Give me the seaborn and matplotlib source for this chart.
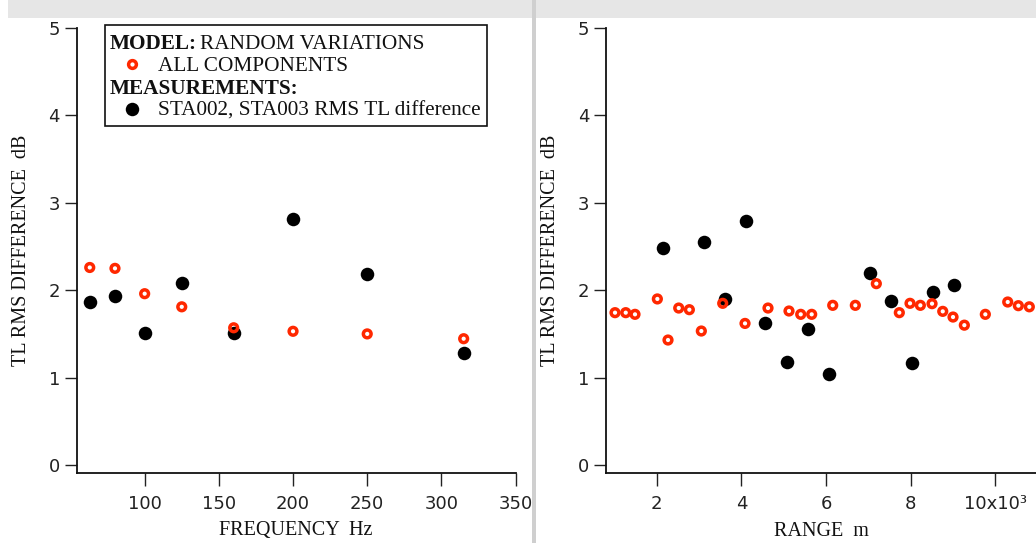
import matplotlib
matplotlib.use("Agg")
import matplotlib.pyplot as plt
from matplotlib.patches import Rectangle
from matplotlib.ticker import FixedLocator, FixedFormatter
import seaborn as sns
import pandas as pd

# left panel: TL RMS difference vs third-octave frequency
freq_hz = [63, 80, 100, 125, 160, 200, 250, 315]
model_by_freq = [2.26, 2.25, 1.96, 1.81, 1.57, 1.53, 1.50, 1.445]
meas_by_freq = [1.87, 1.93, 1.51, 2.08, 1.51, 2.81, 2.19, 1.285]

# right panel: TL RMS difference vs range
model_range_m = [1015, 1268, 1487, 2015, 2267, 2520, 2771, 3054, 3559, 4086,
                 4629, 5125, 5402, 5661, 6158, 6692, 7188, 7731, 7984, 8228,
                 8504, 8757, 9000, 9267, 9763, 10292, 10543, 10802]
model_by_range = [1.743, 1.743, 1.724, 1.90, 1.43, 1.796, 1.777, 1.533, 1.85, 1.62,
                  1.796, 1.762, 1.724, 1.724, 1.827, 1.827, 2.075, 1.743, 1.85, 1.827,
                  1.846, 1.758, 1.693, 1.60, 1.724, 1.865, 1.823, 1.81]
meas_range_m = [2142, 3110, 3606, 4102, 4566, 5071, 5567, 6063, 7032, 7535,
                8031, 8535, 9031]
meas_by_range = [2.48, 2.55, 1.896, 2.79, 1.63, 1.18, 1.56, 1.04, 2.20, 1.876,
                 1.163, 1.976, 2.063]

y_ticks = [0, 1, 2, 3, 4, 5]
freq_ticks = [100, 150, 200, 250, 300, 350]
range_ticks = [2000, 4000, 6000, 8000, 10000]
range_tick_labels = ["2", "4", "6", "8", "10x10\u00b3"]

legend_header_1 = ("MODEL:", "RANDOM VARIATIONS")
legend_item_1 = "ALL COMPONENTS"
legend_header_2 = "MEASUREMENTS:"
legend_item_2 = "STA002, STA003 RMS TL difference"

RED = "#ff2800"
W, H = 1036, 543

sns.set_style("ticks")
plt.rcParams['font.family'] = ['DejaVu Sans']
serif = 'Liberation Serif'

fig = plt.figure(figsize=(W / 100, H / 100), dpi=100)
ax1 = fig.add_axes([76.7 / W, 1 - 472.7 / H, 438.9 / W, 444.7 / H])
ax2 = fig.add_axes([606 / W, 1 - 472.7 / H, 430 / W, 444.7 / H])

df_f = pd.DataFrame({'f': freq_hz, 'model': model_by_freq, 'meas': meas_by_freq})
df_rm = pd.DataFrame({'r': model_range_m, 'v': model_by_range})
df_rd = pd.DataFrame({'r': meas_range_m, 'v': meas_by_range})

black_kw = dict(color='black', s=95, linewidth=0, zorder=3)
red_kw = dict(facecolor='none', edgecolor=RED, s=31, linewidth=2.5, zorder=4)

sns.scatterplot(data=df_f, x='f', y='meas', ax=ax1, **black_kw)
sns.scatterplot(data=df_f, x='f', y='model', ax=ax1, **red_kw)
sns.scatterplot(data=df_rd, x='r', y='v', ax=ax2, **black_kw)
sns.scatterplot(data=df_rm, x='r', y='v', ax=ax2, **red_kw)

ax1.set_xlim(54.2, 350)
ax2.set_xlim(802, 10960)
for ax in (ax1, ax2):
    ax.set_ylim(-0.088, 5)
    ax.set_yticks(y_ticks)
    ax.set_facecolor('none')
    for s in ('top', 'right'):
        ax.spines[s].set_visible(False)
    for s in ('left', 'bottom'):
        ax.spines[s].set_linewidth(1.3)
        ax.spines[s].set_color('#111111')
    ax.tick_params(direction='out', length=9, width=1.0, color='#222222',
                   labelsize=13, labelcolor='#222222')
    ax.tick_params(axis='y', pad=3)
    ax.tick_params(axis='x', pad=7)
    ax.set_ylabel("TL RMS DIFFERENCE  dB", fontfamily=serif, fontsize=14.5, color='#111111')

ax1.set_xticks(freq_ticks)
ax2.xaxis.set_major_locator(FixedLocator(range_ticks))
ax2.xaxis.set_major_formatter(FixedFormatter(range_tick_labels))

ax1.set_xlabel("FREQUENCY  Hz", fontfamily=serif, fontsize=14.5, color='#111111')
ax2.set_xlabel("RANGE  m", fontfamily=serif, fontsize=14.5, color='#111111')
ax1.xaxis.set_label_coords(0.5, (472.7 - 521.5) / 444.7)
ax2.xaxis.set_label_coords(0.5, (472.7 - 521.5) / 444.7)
ax1.yaxis.set_label_coords((31 - 76.7) / 438.9, 0.5)
ax2.yaxis.set_label_coords((560 - 606) / 430, 0.5)


# legend drawn by hand in pixel coordinates of the left axes
def to_ax(px, py):
    return (px - 76.7) / 438.9, (472.7 - py) / 444.7


x0, y0 = to_ax(105, 126)
x1, y1 = to_ax(487, 25.5)
ax1.add_patch(Rectangle((x0, y0), x1 - x0, y1 - y0, transform=ax1.transAxes,
                        facecolor='white', edgecolor='#111111', linewidth=1.2,
                        clip_on=False, zorder=5))
txt_kw = dict(transform=ax1.transAxes, fontfamily=serif, fontsize=15.3,
              color='#111111', va='baseline', ha='left', zorder=6)
ax1.text(*to_ax(110, 49.3), legend_header_1[0], fontweight='bold', **txt_kw)
ax1.text(*to_ax(200, 49.3), legend_header_1[1], **txt_kw)
ax1.text(*to_ax(158, 70.7), legend_item_1, **txt_kw)
ax1.text(*to_ax(110, 94), legend_header_2, fontweight='bold', **txt_kw)
ax1.text(*to_ax(158, 115.6), legend_item_2, **txt_kw)
mx, my = to_ax(131.7, 63.8)
ax1.plot([mx], [my], marker='o', ms=5.6, mfc='none', mec=RED, mew=2.5,
         transform=ax1.transAxes, clip_on=False, zorder=7)
mx, my = to_ax(131.7, 108.8)
ax1.plot([mx], [my], marker='o', ms=9.7, mfc='black', mec='none',
         transform=ax1.transAxes, clip_on=False, zorder=7)

# window chrome from the screenshot
fig.add_artist(Rectangle((8 / W, 1 - 18 / H), 1, 18 / H, transform=fig.transFigure,
                         facecolor='#e6e6e6', edgecolor='none', zorder=-5))
fig.add_artist(Rectangle((532 / W, 0), 4 / W, 1, transform=fig.transFigure,
                         facecolor='#cfcfcf', edgecolor='none', zorder=-4))

fig.savefig("out.png", dpi=100)
